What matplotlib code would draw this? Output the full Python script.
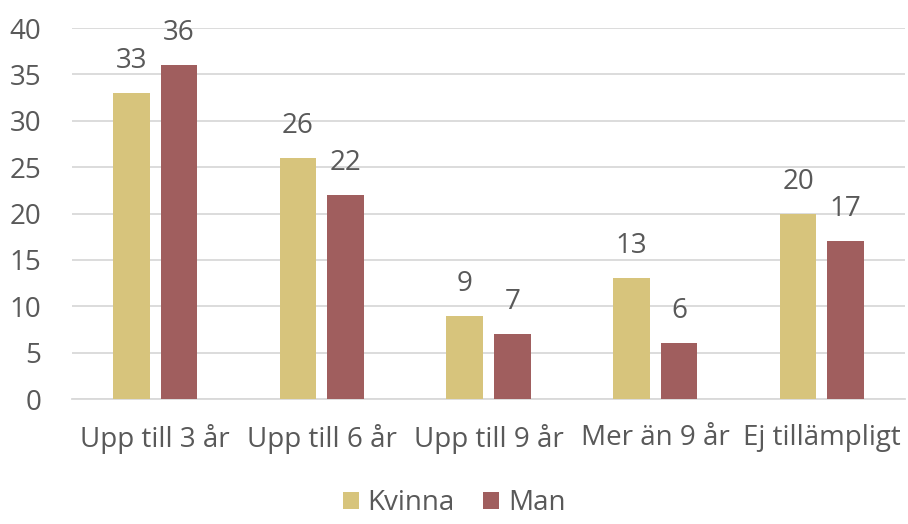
import numpy as np
import matplotlib.pyplot as plt

categories = ['Upp till 3 år', 'Upp till 6 år', 'Upp till 9 år', 'Mer än 9 år', 'Ej tillämpligt']
kvinna = [33, 26, 9, 13, 20]
man = [36, 22, 7, 6, 17]

plt.rcParams['font.family'] = ['Open Sans', 'DejaVu Sans']
text_color = '#595959'
fs = 20

fig = plt.figure(figsize=(9.08, 5.24), dpi=100)
ax = fig.add_axes([0.079, 0.2385, 0.918, 0.708])

x = np.arange(len(categories))
w = 0.22
off = 0.143
b1 = ax.bar(x - off, kvinna, w, color='#D7C47C', label='Kvinna', zorder=3)
b2 = ax.bar(x + off, man, w, color='#A05E5E', label='Man', zorder=3)

# value labels above bars
for bars, vals in ((b1, kvinna), (b2, man)):
    for b, v in zip(bars, vals):
        ax.annotate(str(v), (b.get_x() + b.get_width() / 2, v), xytext=(0, 18),
                    textcoords='offset points', ha='center', va='baseline',
                    fontsize=fs, color=text_color)

ax.set_xlim(-0.5, len(categories) - 0.5)
ax.set_ylim(0, 40)
ax.set_yticks(range(0, 41, 5))
ax.yaxis.grid(True, color='#D9D9D9', linewidth=1.3, zorder=0)
ax.set_xticks(x)
ax.set_xticklabels(categories)
ax.tick_params(axis='both', length=0, labelsize=fs, labelcolor=text_color)
ax.tick_params(axis='y', pad=22)
ax.tick_params(axis='x', pad=18)
for s in ['top', 'right', 'left']:
    ax.spines[s].set_visible(False)
ax.spines['bottom'].set_color('#D9D9D9')
ax.spines['bottom'].set_linewidth(1.3)

leg = fig.legend(loc='lower center', bbox_to_anchor=(0.5, -0.035), ncol=2, frameon=False,
                 fontsize=fs, handlelength=0.6, handleheight=0.6, handletextpad=0.3,
                 columnspacing=1.0)
for t in leg.get_texts():
    t.set_color(text_color)

fig.savefig('out.png', dpi=100)
